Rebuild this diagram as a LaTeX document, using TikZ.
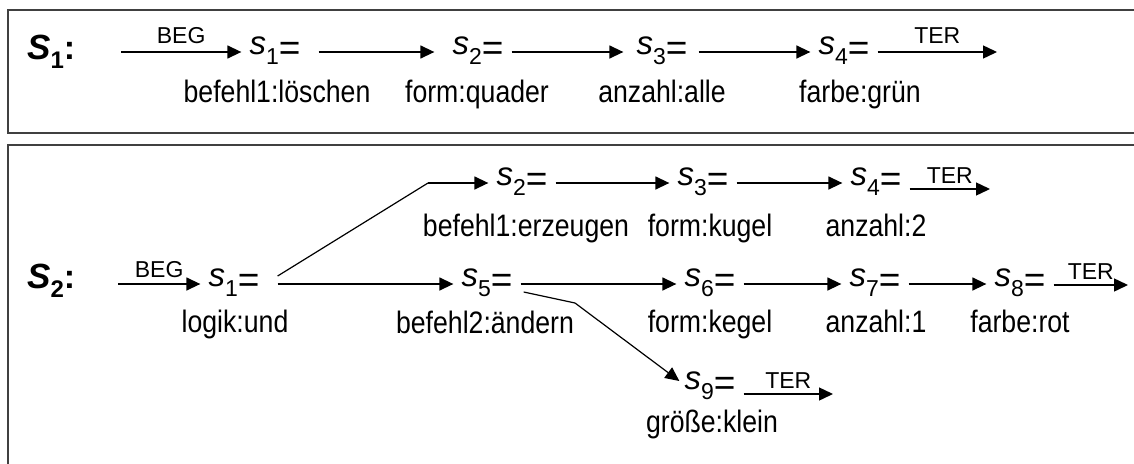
\documentclass[tikz,border=0pt]{standalone}
\usepackage{fontspec}
\setmainfont{Liberation Sans}
\newfontfamily\narrowfont{Liberation Sans}[FakeStretch=0.86]
\usetikzlibrary{arrows.meta}

% state symbol  s_i=
\newcommand\stval[1]{{\fontsize{33}{33}\selectfont\itshape s}%
  \raisebox{-10pt}{\fontsize{23}{23}\selectfont #1}%
  \raisebox{-6pt}{\fontsize{37}{37}\selectfont =}}
% sequence name  S_i:
\newcommand\seqname[1]{{\fontsize{35}{35}\selectfont\bfseries\itshape S}%
  \raisebox{-9pt}{\fontsize{24}{24}\selectfont\bfseries #1}%
  {\fontsize{34}{34}\selectfont\bfseries :}}

\begin{document}
\begin{tikzpicture}[x=1pt,y=-1pt,
  % node font chosen so that the mid anchors sit on the middle of "="
  st/.style={font=\fontsize{23}{23}\selectfont, inner xsep=8pt, inner ysep=0pt, anchor=mid},
  seq/.style={inner sep=0pt, anchor=base west},
  val/.style={font=\narrowfont\fontsize{31}{31}\selectfont, inner sep=0pt, anchor=base},
  tag/.style={font=\fontsize{23}{23}\selectfont, inner sep=0pt},
  arr/.style={line width=1.4pt, -{Triangle[length=14pt,width=13pt]}},
  lnk/.style={line width=1.2pt},
  frame/.style={line width=2pt, draw=black!75}]
\useasboundingbox (0,0) rectangle (1134,463);

% frames
\draw[frame] (1140,10) -- (8,10) -- (8,133) -- (1140,133);
\draw[frame] (1140,145) -- (8,145) -- (8,470);

% ---------------- sequence S1 ----------------
\node[seq] (n1) at (27,59) {\seqname{1}};
\coordinate (abeg) at (121,52);
\coordinate (ater) at (997,52);
\node[st] (a1) at (275,52) {\stval{1}};
\node[st] (a2) at (478,52) {\stval{2}};
\node[st] (a3) at (662,52) {\stval{3}};
\node[st] (a4) at (844,52) {\stval{4}};
\node[val] (v1) at (277,102) {befehl1:löschen};
\node[val] (v2) at (477,102) {form:quader};
\node[val] (v3) at (662,102) {anzahl:alle};
\node[val] (v4) at (860,102) {farbe:grün};

\draw[arr] (abeg) -- node[tag, above=8pt] (tb1) {BEG} (a1.mid west);
\draw[arr, shorten <=10pt, shorten >=10pt] (a1.mid east) -- (a2.mid west);
\draw[arr, shorten >=5pt] (a2.mid east) -- (a3.mid west);
\draw[arr, shorten <=3pt] (a3.mid east) -- (a4.mid west);
\draw[arr] (a4.mid east) -- node[tag, above=8pt] (tt1) {TER} (ater);

% ---------------- sequence S2 ----------------
\node[seq] (n2) at (27,288) {\seqname{2}};
\coordinate (bbeg) at (118,284);
\node[st] (b1) at (234,284) {\stval{1}};
\node[st] (b2) at (522,183) {\stval{2}};
\node[st] (b3) at (703,183) {\stval{3}};
\node[st] (b4) at (876,183) {\stval{4}};
\node[st] (b5) at (487,284) {\stval{5}};
\node[st] (b6) at (710,284) {\stval{6}};
\node[st] (b7) at (875,284) {\stval{7}};
\node[st] (b8) at (1020,284) {\stval{8}};
\node[st] (b9) at (710,387) {\stval{9}};

\node[val] (w1) at (235,332) {logik:und};
\node[val] (w2) at (526,236) {befehl1:erzeugen};
\node[val] (w3) at (710,236) {form:kugel};
\node[val] (w4) at (876,236) {anzahl:2};
\node[val] (w5) at (485,333) {befehl2:ändern};
\node[val] (w6) at (710,332) {form:kegel};
\node[val] (w7) at (876,332) {anzahl:1};
\node[val] (w8) at (1020,332) {farbe:rot};
\node[val] (w9) at (712,432) {größe:klein};

\coordinate (t4) at (990,189);
\coordinate (t8) at (1128,285);
\coordinate (t9) at (833,394);
\coordinate (k1) at (428,183);
\coordinate (k2) at (575,303);

\draw[arr] (bbeg) -- node[tag, above=6pt] (tb2) {BEG} (b1.mid west);
\draw[arr, shorten <=10pt] (b1.mid east) -- (b5.mid west);
\draw[lnk] ([shift={(10pt,8pt)}]b1.mid east) -- (k1);
\draw[arr] (k1) -- (b2.mid west);
\draw[arr] (b2.mid east) -- (b3.mid west);
\draw[arr] (b3.mid east) -- (b4.mid west);
\draw[arr] (b4.mid east |- t4) -- node[tag, above=5pt] (tt4) {TER} (t4);
\draw[arr] (b5.mid east) -- (b6.mid west);
\draw[arr] (b6.mid east) -- (b7.mid west);
\draw[arr] (b7.mid east) -- (b8.mid west);
\draw[arr] (b8.mid east |- t8) -- node[tag, above=5pt] (tt8) {TER} (t8);
\draw[lnk] ([shift={(3pt,-8pt)}]b5.mid east) -- (k2);
\draw[arr, line width=1.2pt] (k2) -- ([shift={(3pt,6pt)}]b9.mid west);
\draw[arr] (b9.mid east |- t9) -- node[tag, above=5pt] (tt9) {TER} (t9);
\end{tikzpicture}
\end{document}
